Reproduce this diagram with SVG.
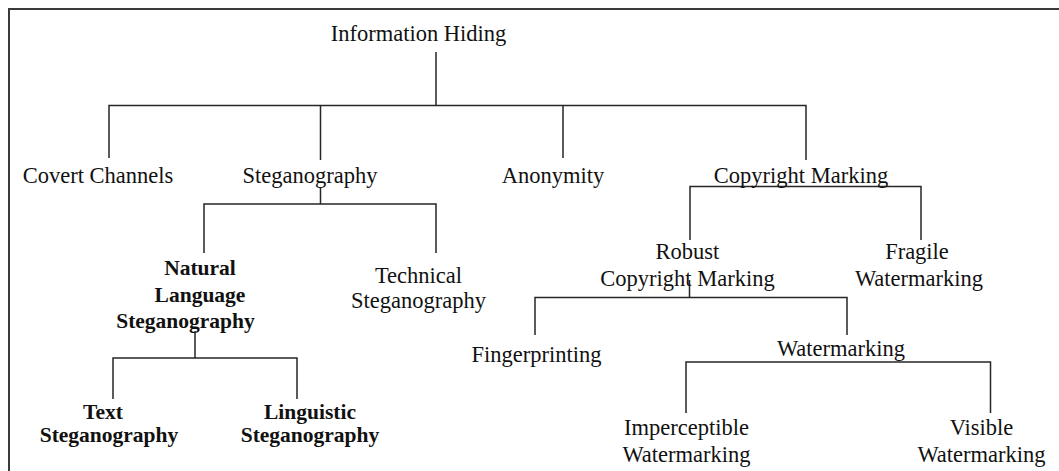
<svg xmlns="http://www.w3.org/2000/svg" width="1059" height="471" viewBox="0 0 1059 471">
<style>
  text { font-family: "Liberation Serif", "Times New Roman", serif; font-size: 22.5px; fill: #111; text-anchor: middle; }
  .b { font-weight: bold; font-size: 21.5px; }
  .ln { stroke: #262626; stroke-width: 1.5; fill: none; }
  .frame { stroke: #3a3a3a; stroke-width: 2; fill: none; }
</style>
<rect width="1059" height="471" fill="#fff"/>
<path class="frame" d="M9,471 V9 H1059"/>
<g id="connectors">
  <path class="ln" d="M436,52 V105.5 M109,158 V105.5 H806 V160 M320.5,105.5 V160 M563,105.5 V158"/>
  <path class="ln" d="M320.5,188 V204 M204,253 V204 H436 V253"/>
  <path class="ln" d="M195,331 V358 M113,399 V358 H297 V399"/>
  <path class="ln" d="M690,240 V186.5 H921 V240"/>
  <path class="ln" d="M689.5,280 V297.5 M535,335 V297.5 H847 V335"/>
  <path class="ln" d="M686,413 V362 H990.5 V413"/>
</g>
<g id="information-hiding"><text x="418.5" y="40.5">Information Hiding</text></g>
<g id="covert-channels"><text x="98" y="182.5">Covert Channels</text></g>
<g id="steganography"><text x="310" y="182.5">Steganography</text></g>
<g id="anonymity"><text x="553" y="182.5">Anonymity</text></g>
<g id="copyright-marking"><text x="801" y="182.5">Copyright Marking</text></g>
<g id="natural-language-steganography">
  <text class="b" x="200" y="275">Natural</text>
  <text class="b" x="200" y="302">Language</text>
  <text class="b" x="185.5" y="328">Steganography</text>
</g>
<g id="technical-steganography">
  <text x="418.5" y="283">Technical</text>
  <text x="418.5" y="308">Steganography</text>
</g>
<g id="text-steganography">
  <text class="b" x="103" y="419">Text</text>
  <text class="b" x="109" y="442">Steganography</text>
</g>
<g id="linguistic-steganography">
  <text class="b" x="310" y="419">Linguistic</text>
  <text class="b" x="310" y="442">Steganography</text>
</g>
<g id="robust-copyright-marking">
  <text x="687.5" y="259">Robust</text>
  <text x="687.5" y="286">Copyright Marking</text>
</g>
<g id="fragile-watermarking">
  <text x="917" y="259">Fragile</text>
  <text x="919" y="286">Watermarking</text>
</g>
<g id="fingerprinting"><text x="536.5" y="362">Fingerprinting</text></g>
<g id="watermarking"><text x="841" y="356">Watermarking</text></g>
<g id="imperceptible-watermarking">
  <text x="686.5" y="435">Imperceptible</text>
  <text x="686.5" y="461.5">Watermarking</text>
</g>
<g id="visible-watermarking">
  <text x="981.5" y="435">Visible</text>
  <text x="981.5" y="461.5">Watermarking</text>
</g>
</svg>
